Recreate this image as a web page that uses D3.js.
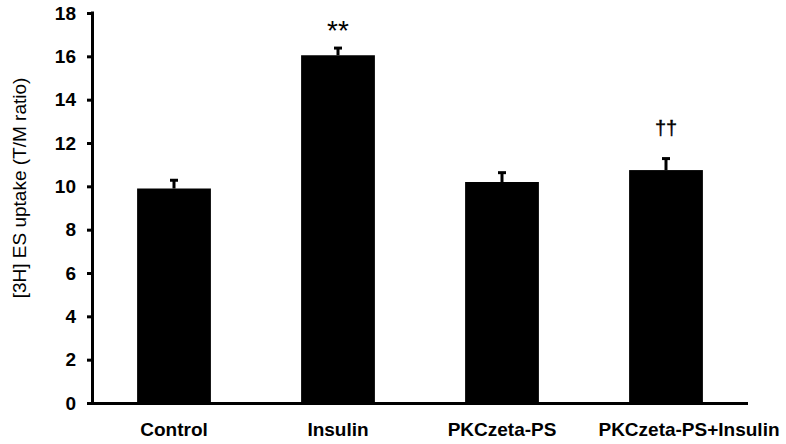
<!DOCTYPE html>
<html>
<head>
<meta charset="utf-8">
<script src="https://cdn.jsdelivr.net/npm/d3@7"></script>
<style>
  html, body { margin: 0; padding: 0; background: #fff; }
  svg { display: block; }
</style>
</head>
<body>
<svg id="chart" width="786" height="444"></svg>
<script>
const categories = ["Control", "Insulin", "PKCzeta-PS", "PKCzeta-PS+Insulin"];
const values = [9.9, 16.05, 10.2, 10.75];
const errors = [0.45, 0.4, 0.5, 0.6];
const annotations = ["", "**", "", "\u2020\u2020"];
const yTicks = [0, 2, 4, 6, 8, 10, 12, 14, 16, 18];
const yTitle = "[3H] ES uptake (T/M ratio)";

(function () {
const svg = d3.select("#chart");
const mLeft = 92, mRight = 748, mTop = 13, mBottom = 403;

const x = d3.scaleBand().domain(categories).range([mLeft, mRight])
  .paddingInner(0.55).paddingOuter(0.275);
const y = d3.scaleLinear().domain([0, 18]).range([mBottom, mTop]);

const font = "Arial, 'Liberation Sans', Helvetica, sans-serif";

// bars
svg.append("g").selectAll("rect").data(categories).join("rect")
  .attr("x", d => x(d))
  .attr("width", x.bandwidth())
  .attr("y", (d, i) => y(values[i]))
  .attr("height", (d, i) => y(0) - y(values[i]))
  .attr("fill", "#000");

// error bars (upper only)
const eg = svg.append("g");
categories.forEach((c, i) => {
  const cx = x(c) + x.bandwidth() / 2;
  eg.append("line")
    .attr("x1", cx).attr("x2", cx)
    .attr("y1", y(values[i])).attr("y2", y(values[i] + errors[i]) + 1.5)
    .attr("stroke", "#000").attr("stroke-width", 3);
  eg.append("line")
    .attr("x1", cx - 4).attr("x2", cx + 4)
    .attr("y1", y(values[i] + errors[i]) + 1.5).attr("y2", y(values[i] + errors[i]) + 1.5)
    .attr("stroke", "#000").attr("stroke-width", 3);
});

// annotations
categories.forEach((c, i) => {
  if (!annotations[i]) return;
  const cx = x(c) + x.bandwidth() / 2;
  const isStar = annotations[i].indexOf("*") >= 0;
  svg.append("text")
    .attr("x", cx)
    .attr("y", y(values[i] + errors[i]) - (isStar ? 7 : 22))
    .attr("text-anchor", "middle")
    .attr("font-family", font)
    .attr("font-size", isStar ? 28 : 20)
    .attr("fill", "#000")
    .attr("stroke", isStar ? "none" : "#000")
    .attr("stroke-width", 0.4)
    .text(annotations[i]);
});

// y axis
const yAxis = svg.append("g").attr("transform", `translate(${mLeft},0)`)
  .call(d3.axisLeft(y).tickValues(yTicks).tickSize(5).tickPadding(11).tickSizeOuter(0));
yAxis.select(".domain").attr("stroke", "#000").attr("stroke-width", 3)
  .attr("d", `M0.5,${mTop - 1.5}V${mBottom + 1.5}`);
yAxis.selectAll(".tick line").attr("stroke", "#000").attr("stroke-width", 3);
yAxis.selectAll(".tick text")
  .attr("font-family", font).attr("font-size", 19).attr("font-weight", "bold")
  .attr("fill", "#000");

// x axis
const xAxis = svg.append("g").attr("transform", `translate(0,${mBottom})`)
  .call(d3.axisBottom(x).tickSize(0).tickPadding(20));
xAxis.select(".domain").attr("stroke", "#000").attr("stroke-width", 3)
  .attr("d", `M${mLeft - 4},0.5H${mRight}`);
xAxis.selectAll(".tick text")
  .attr("font-family", font).attr("font-size", 19).attr("font-weight", "bold")
  .attr("fill", "#000").attr("dy", "0.71em")
  .attr("dx", (d, i) => i === categories.length - 1 ? 23 : 0);

// y title
svg.append("text")
  .attr("transform", `translate(26,${(mTop + mBottom) / 2 - 20}) rotate(-90)`)
  .attr("text-anchor", "middle")
  .attr("font-family", font).attr("font-size", 19)
  .attr("fill", "#000")
  .text(yTitle);
})();
</script>
</body>
</html>
